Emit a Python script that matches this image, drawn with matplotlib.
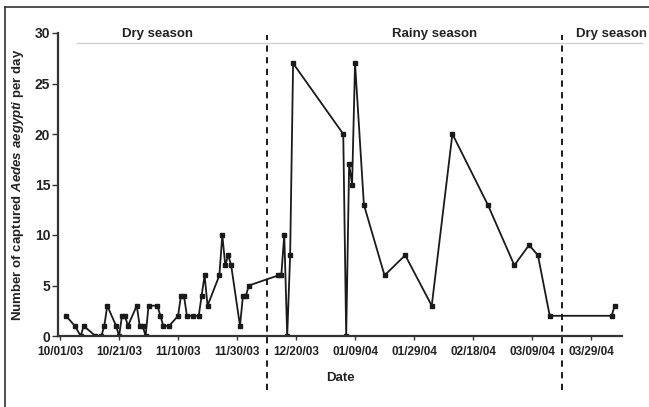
import numpy as np
import pandas as pd
import matplotlib
matplotlib.use('Agg')
import matplotlib.pyplot as plt
import matplotlib.dates as mdates
from matplotlib.lines import Line2D

plt.rcParams['font.family'] = 'Liberation Sans'
plt.rcParams['font.weight'] = 'bold'
plt.rcParams['mathtext.fontset'] = 'custom'
plt.rcParams['mathtext.it'] = 'Liberation Sans:italic:bold'
plt.rcParams['mathtext.rm'] = 'Liberation Sans:bold'

# sampling dates and daily captures
dates = ['2003-10-03', '2003-10-06', '2003-10-08', '2003-10-09', '2003-10-13',
         '2003-10-15', '2003-10-16', '2003-10-17', '2003-10-20', '2003-10-21',
         '2003-10-22', '2003-10-23', '2003-10-24', '2003-10-27', '2003-10-28',
         '2003-10-29', '2003-10-30', '2003-10-31', '2003-11-03', '2003-11-04',
         '2003-11-05', '2003-11-07', '2003-11-10', '2003-11-11', '2003-11-12',
         '2003-11-13', '2003-11-15', '2003-11-17', '2003-11-18', '2003-11-19',
         '2003-11-20', '2003-11-24', '2003-11-25', '2003-11-26', '2003-11-27',
         '2003-11-28', '2003-12-01', '2003-12-02', '2003-12-03', '2003-12-04',
         '2003-12-14', '2003-12-15', '2003-12-16', '2003-12-17', '2003-12-18',
         '2003-12-19', '2004-01-05', '2004-01-06', '2004-01-07', '2004-01-08',
         '2004-01-09', '2004-01-12', '2004-01-19', '2004-01-26', '2004-02-04',
         '2004-02-11', '2004-02-23', '2004-03-03', '2004-03-08', '2004-03-11',
         '2004-03-15', '2004-04-05', '2004-04-06']
counts = [2, 1, 0, 1, 0,
          0, 1, 3, 1, 0,
          2, 2, 1, 3, 1,
          1, 0, 3, 3, 2,
          1, 1, 2, 4, 4,
          2, 2, 2, 4, 6,
          3, 6, 10, 7, 8,
          7, 1, 4, 4, 5,
          6, 6, 10, 0, 8,
          27, 20, 0, 17, 15,
          27, 13, 6, 8, 3,
          20, 13, 7, 9, 8,
          2, 2, 3]

tick_dates = pd.date_range('2003-10-01', periods=10, freq='20D')
season_bounds = ['2003-12-10', '2004-03-19']
season_labels = ['Dry season', 'Rainy season', 'Dry season']
season_label_x = ['2003-11-03', '2004-02-05', '2004-04-05']

fig = plt.figure(figsize=(6.49, 4.07), dpi=100)
ax = fig.add_axes([58 / 649, 71 / 407, 564 / 649, 303 / 407])

x = pd.to_datetime(dates)
ax.plot(x, counts, color='#1a1a1a', lw=1.3, marker='s', ms=2.2)

start = mdates.date2num(pd.Timestamp('2003-10-01'))
ax.set_xlim(start - 0.7, start + 190.5)
ax.set_ylim(0, 30)

# season separators and header line
for b in season_bounds:
    bx = mdates.date2num(pd.Timestamp(b))
    ax.plot([bx, bx], [-5.3, 29.8], color='#1a1a1a', lw=1.4,
            ls=(0, (3.2, 2.8)), clip_on=False)
ax.plot([start + 5.8, start + 197.3], [29, 29], color='#cfcfcf', lw=1,
        clip_on=False)
for lab, lx in zip(season_labels, season_label_x):
    ax.text(mdates.date2num(pd.Timestamp(lx)), 29.9, lab, ha='center',
            va='center', fontsize=9.5, fontweight='bold', color='#222222')

ax.set_xticks(tick_dates)
ax.xaxis.set_major_formatter(mdates.DateFormatter('%m/%d/%y'))
ax.set_yticks([0, 5, 10, 15, 20, 25, 30])

for s in ['top', 'right']:
    ax.spines[s].set_visible(False)
for s in ['left', 'bottom']:
    ax.spines[s].set_linewidth(1.6)
    ax.spines[s].set_color('#333333')
ax.tick_params(axis='x', length=3, width=1, colors='#333333', labelsize=8.5,
               labelcolor='#222222', pad=4)
ax.tick_params(axis='y', length=4, width=1, colors='#333333', labelsize=10,
               labelcolor='#222222', pad=1.5)

ax.set_xlabel('Date', fontsize=9.5, fontweight='bold', color='#222222',
              labelpad=6)
ax.xaxis.set_label_coords((340 - 58) / 564, -36 / 303)
ax.set_ylabel(r'Number of captured $\mathit{Aedes\ aegypti}$ per day',
              fontsize=9.5, fontweight='bold', color='#222222')
ax.yaxis.set_label_coords(-(58 - 26) / 564, 0.5)

# outer frame (top and left edges only)
fig.add_artist(Line2D([5 / 649, 1], [1 - 7 / 407] * 2, color='#333333',
                      lw=1.2, transform=fig.transFigure))
fig.add_artist(Line2D([5 / 649] * 2, [0, 1 - 7 / 407], color='#333333',
                      lw=1.2, transform=fig.transFigure))

fig.savefig('out.png', dpi=100)
